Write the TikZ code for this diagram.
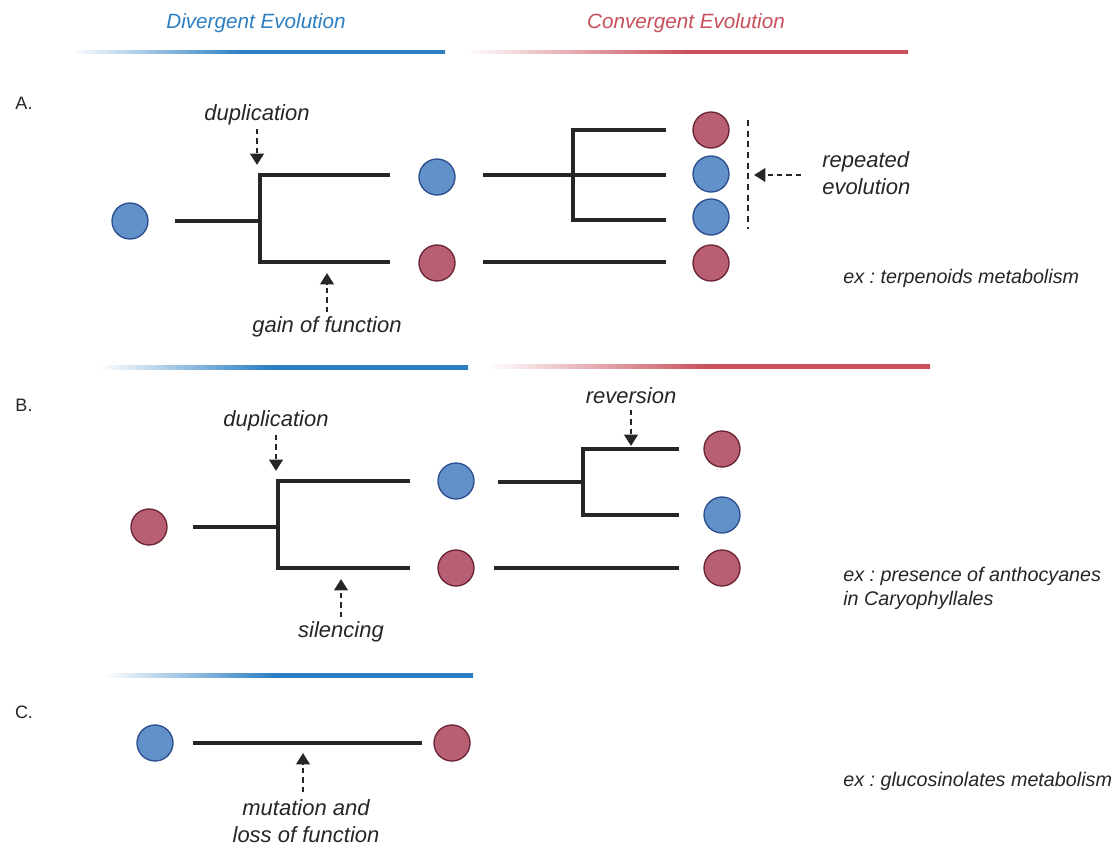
\documentclass[tikz,border=0pt]{standalone}
\usepackage{fontspec}
\setmainfont{Liberation Sans}
\usetikzlibrary{arrows.meta}
\definecolor{hblue}{HTML}{2C7FC3}
\definecolor{hred}{HTML}{C9505B}
\definecolor{cblue}{HTML}{6290C8}
\definecolor{cblueb}{HTML}{2B4E8E}
\definecolor{cred}{HTML}{B95F74}
\definecolor{credb}{HTML}{6B2434}
\definecolor{ink}{HTML}{262626}
\pgfdeclarehorizontalshading{bluerule}{100bp}{color(0bp)=(white); color(25bp)=(white); color(48bp)=(hblue); color(100bp)=(hblue)}
\pgfdeclarehorizontalshading{redrule}{100bp}{color(0bp)=(white); color(25bp)=(white); color(50bp)=(hred); color(100bp)=(hred)}
\frenchspacing
\begin{document}
\begin{tikzpicture}[x=0.75pt,y=-0.75pt,
 every node/.style={text=ink},
 bc/.style={circle,draw=cblueb,fill=cblue,line width=1pt,minimum size=27pt,inner sep=0pt},
 rc/.style={circle,draw=credb,fill=cred,line width=1pt,minimum size=27pt,inner sep=0pt},
 tree/.style={draw=ink,line width=2.35pt,line join=miter},
 darr/.style={draw=ink,line width=2.1pt,dash pattern=on 4pt off 3pt,-{Triangle[width=10pt,length=8.5pt]}},
 vdash/.style={draw=ink,line width=2.1pt,dash pattern=on 4.5pt off 3.5pt},
 note/.style={font=\itshape\fontsize{16.5}{20}\selectfont,align=center,inner sep=0pt},
 ex/.style={font=\itshape\fontsize{14.8}{18}\selectfont,anchor=west,align=left,inner sep=0pt},
 lab/.style={font=\fontsize{13.5}{15}\selectfont,inner sep=0pt},
 head/.style={font=\itshape\fontsize{15.5}{19}\selectfont,inner sep=0pt},
 brule/.style={shading=bluerule},
 rrule/.style={shading=redrule}]
\useasboundingbox (0,0) rectangle (1119,845);
\fill[white] (0,0) rectangle (1119,845);

% headers
\node[head,text=hblue] (hdiv) at (256,23) {Divergent Evolution};
\node[head,text=hred] (hcon) at (686,23) {Convergent Evolution};

% gradient rules
\shade[brule] (70,50.5) rectangle (445,54);
\shade[rrule] (465,50.5) rectangle (908,54);
\shade[brule] (100,365.5) rectangle (468,369);
\shade[rrule] (488,364.5) rectangle (930,368);
\shade[brule] (104,673.5) rectangle (473,677);

% section labels
\node[lab] (la) at (24,103) {A.};
\node[lab] (lb) at (24,405) {B.};
\node[lab] (lc) at (24,712) {C.};

% ===== A =====
\node[bc] (a0) at (130,221) {};
\node[bc] (a1) at (437,177) {};
\node[rc] (a2) at (437,263) {};
\coordinate (aS) at (175,221);
\coordinate (aJ) at (260,221);
\coordinate (aJu) at (260,175);
\coordinate (aJl) at (260,262);
\coordinate (aU) at (390,175);
\coordinate (aL) at (390,262);
\draw[tree] (aS) -- (aJ);
\draw[tree] (aU) -- (aJu) -- (aJl) -- (aL);

\node[note] (dupA) at (257,115) {duplication};
\coordinate (dupAs) at (257,129);
\coordinate (dupAt) at (257,165);
\draw[darr] (dupAs) -- (dupAt);
\node[note] (gainA) at (327,327) {gain of function};
\coordinate (gainAs) at (327,312);
\coordinate (gainAt) at (327,273);
\draw[darr] (gainAs) -- (gainAt);

\node[rc] (a3) at (711,130) {};
\node[bc] (a4) at (711,174) {};
\node[bc] (a5) at (711,217) {};
\node[rc] (a6) at (711,263) {};
\coordinate (bS) at (483,175);
\coordinate (bJ) at (573,175);
\coordinate (bJu) at (573,130);
\coordinate (bJl) at (573,220);
\coordinate (bU) at (666,130);
\coordinate (bM) at (666,175);
\coordinate (bL) at (666,220);
\coordinate (cS) at (483,262);
\coordinate (cE) at (666,262);
\draw[tree] (bS) -- (bM);
\draw[tree] (bU) -- (bJu) -- (bJl) -- (bL);
\draw[tree] (cS) -- (cE);
\coordinate (rt) at (748,120);
\coordinate (rb) at (748,229);
\draw[vdash] (rt) -- (rb);
\coordinate (repS) at (801,175);
\coordinate (repT) at (754,175);
\draw[darr] (repS) -- (repT);
\node[note,align=left,anchor=west] (rep) at (822,173) {repeated\\evolution};
\node[ex] (exA) at (843,278) {ex : terpenoids metabolism};

% ===== B =====
\node[rc] (b0) at (149,527) {};
\node[bc] (b1) at (456,481) {};
\node[rc] (b2) at (456,568) {};
\coordinate (dS) at (193,527);
\coordinate (dJ) at (278,527);
\coordinate (dJu) at (278,481);
\coordinate (dJl) at (278,568);
\coordinate (dU) at (410,481);
\coordinate (dL) at (410,568);
\draw[tree] (dS) -- (dJ);
\draw[tree] (dU) -- (dJu) -- (dJl) -- (dL);

\node[note] (dupB) at (276,421) {duplication};
\coordinate (dupBs) at (276,435);
\coordinate (dupBt) at (276,471);
\draw[darr] (dupBs) -- (dupBt);
\node[note] (silB) at (341,632) {silencing};
\coordinate (silBs) at (341,617);
\coordinate (silBt) at (341,579);
\draw[darr] (silBs) -- (silBt);

\node[rc] (b3) at (722,449) {};
\node[bc] (b4) at (722,515) {};
\node[rc] (b5) at (722,568) {};
\coordinate (eS) at (498,482);
\coordinate (eJ) at (583,482);
\coordinate (eJu) at (583,449);
\coordinate (eJl) at (583,515);
\coordinate (eU) at (679,449);
\coordinate (eL) at (679,515);
\coordinate (fS) at (494,568);
\coordinate (fE) at (679,568);
\draw[tree] (eS) -- (eJ);
\draw[tree] (eU) -- (eJu) -- (eJl) -- (eL);
\draw[tree] (fS) -- (fE);
\node[note] (revB) at (631,396) {reversion};
\coordinate (revBs) at (631,410);
\coordinate (revBt) at (631,446);
\draw[darr] (revBs) -- (revBt);
\node[ex] (exB) at (843,588) {ex : presence of anthocyanes\\in Caryophyllales};

% ===== C =====
\node[bc] (c0) at (155,743) {};
\node[rc] (c1) at (452,743) {};
\coordinate (gS) at (193,743);
\coordinate (gE) at (422,743);
\draw[tree] (gS) -- (gE);
\node[note] (mutC) at (306,821) {mutation and\\loss of function};
\coordinate (mutCs) at (303,792);
\coordinate (mutCt) at (303,753);
\draw[darr] (mutCs) -- (mutCt);
\node[ex] (exC) at (843,781) {ex : glucosinolates metabolism};
\end{tikzpicture}
\end{document}
